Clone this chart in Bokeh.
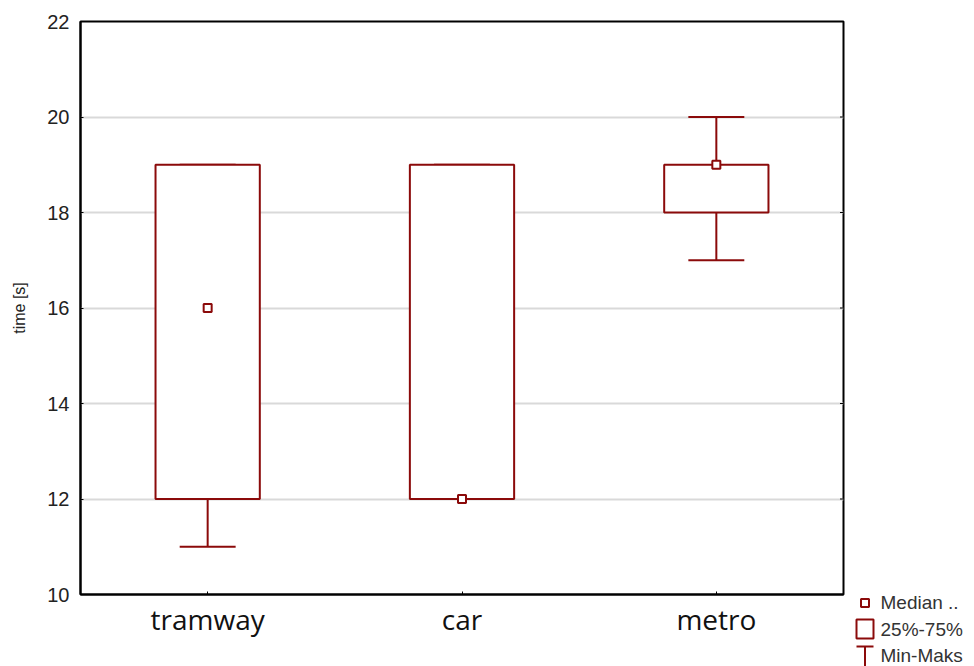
from bokeh.plotting import figure
from bokeh.models import ColumnDataSource, FixedTicker, Range1d, FactorRange
from bokeh.transform import dodge
from bokeh.layouts import row
from bokeh.core.properties import value
from bokeh.embed import file_html
from bokeh.resources import INLINE

# ---- data ----
categories = ["tramway", "car", "metro"]
mins = [11, 12, 17]
q1 = [12, 12, 18]
medians = [16, 12, 19]
q3 = [19, 19, 19]
maxs = [19, 19, 20]
y_ticks = [10, 12, 14, 16, 18, 20, 22]
legend_labels = ["Median ..", "25%-75%", "Min-Maks"]

RED = "#8b0a0a"
H = 658
PAGE_H = 666
MAIN_W = 850
LEG_W = 116
LEFT, TOP, FW, FH = 80, 21, 763, 573

src = ColumnDataSource(dict(cat=categories, mn=mins, q1=q1, med=medians, q3=q3, mx=maxs))

p = figure(x_range=FactorRange(*categories), y_range=Range1d(10, 22),
           width=MAIN_W, height=H, output_backend="svg", toolbar_location=None,
           title=None,
           min_border_left=LEFT, min_border_right=MAIN_W - LEFT - FW,
           min_border_top=TOP, min_border_bottom=H - TOP - FH)
p.outline_line_color = "black"
p.outline_line_width = 2
p.background_fill_color = "white"
p.border_fill_color = "white"

ax = p.yaxis[0]
ax.ticker = FixedTicker(ticks=y_ticks)
ax.minor_tick_line_color = None
ax.major_tick_in = 3
ax.major_tick_out = 0
ax.axis_line_width = 2
ax.axis_line_color = "black"
ax.major_label_text_font = "Liberation Sans"
ax.major_label_text_font_size = "20px"
ax.major_label_text_color = "#222222"
ax.major_label_standoff = 11
ax.axis_label = "time [s]"
ax.axis_label_text_font = "Liberation Sans"
ax.axis_label_text_font_size = "16px"
ax.axis_label_text_font_style = "normal"
ax.axis_label_text_color = "#222222"
ax.axis_label_standoff = 16

xa = p.xaxis[0]
xa.major_tick_in = 3
xa.major_tick_out = 0
xa.axis_line_width = 2
xa.major_label_text_font = "Open Sans"
xa.major_label_text_font_size = "28px"
xa.major_label_text_color = "#111111"
xa.major_label_standoff = 5

p.xgrid.grid_line_color = None
p.ygrid.ticker = FixedTicker(ticks=y_ticks)
p.ygrid.grid_line_color = "#d9d9d9"
p.ygrid.grid_line_width = 2

# small inward ticks on the right frame edge
tick_src = ColumnDataSource(dict(cat=[categories[-1]] * len(y_ticks), y=y_ticks))
p.scatter(x=dodge("cat", 0.5, range=p.x_range), y="y", source=tick_src,
          marker="dash", size=7, line_color="black", line_width=1)

# whiskers
p.segment(x0="cat", y0="q3", x1="cat", y1="mx", source=src, line_color=RED, line_width=2)
p.segment(x0="cat", y0="q1", x1="cat", y1="mn", source=src, line_color=RED, line_width=2)
p.segment(x0=dodge("cat", -0.11, range=p.x_range), y0="mx",
          x1=dodge("cat", 0.11, range=p.x_range), y1="mx", source=src, line_color=RED, line_width=2)
p.segment(x0=dodge("cat", -0.11, range=p.x_range), y0="mn",
          x1=dodge("cat", 0.11, range=p.x_range), y1="mn", source=src, line_color=RED, line_width=2)
# boxes
p.vbar(x="cat", bottom="q1", top="q3", width=0.41, source=src,
       fill_color="white", line_color=RED, line_width=2)
# medians
p.scatter(x="cat", y="med", source=src, marker="square", size=8,
          fill_color="white", line_color=RED, line_width=2)

# ---- legend panel (its frame starts at the main frame's top edge) ----
LG_FH = PAGE_H
lg = figure(frame_width=LEG_W, frame_height=LG_FH, x_range=Range1d(MAIN_W, MAIN_W + LEG_W),
            y_range=Range1d(0, LG_FH), output_backend="svg", toolbar_location=None,
            title=None, min_border=0, x_axis_type=None, y_axis_type=None)
lg.outline_line_color = None
lg.xgrid.grid_line_color = None
lg.ygrid.grid_line_color = None
lg.background_fill_color = "white"
lg.border_fill_color = "white"

def up(py):
    return TOP + LG_FH - py

lg.scatter(x=[864.5], y=[up(602.5)], marker="square", size=8,
           fill_color="white", line_color=RED, line_width=2)
lg.quad(left=[856], right=[873], top=[up(619)], bottom=[up(638)],
        fill_color="white", line_color=RED, line_width=2)
lg.segment(x0=[856, 864.5], y0=[up(646), up(646)], x1=[873, 864.5], y1=[up(646), up(PAGE_H)],
           line_color=RED, line_width=2)
lg.text(x=[880, 880, 880], y=[up(602), up(629), up(655)], text=legend_labels,
        text_baseline="middle", text_font=value("Liberation Sans"),
        text_font_size="19px", text_color="#333333")

layout = row(p, lg)
open("out.html", "w").write(file_html(layout, INLINE))
